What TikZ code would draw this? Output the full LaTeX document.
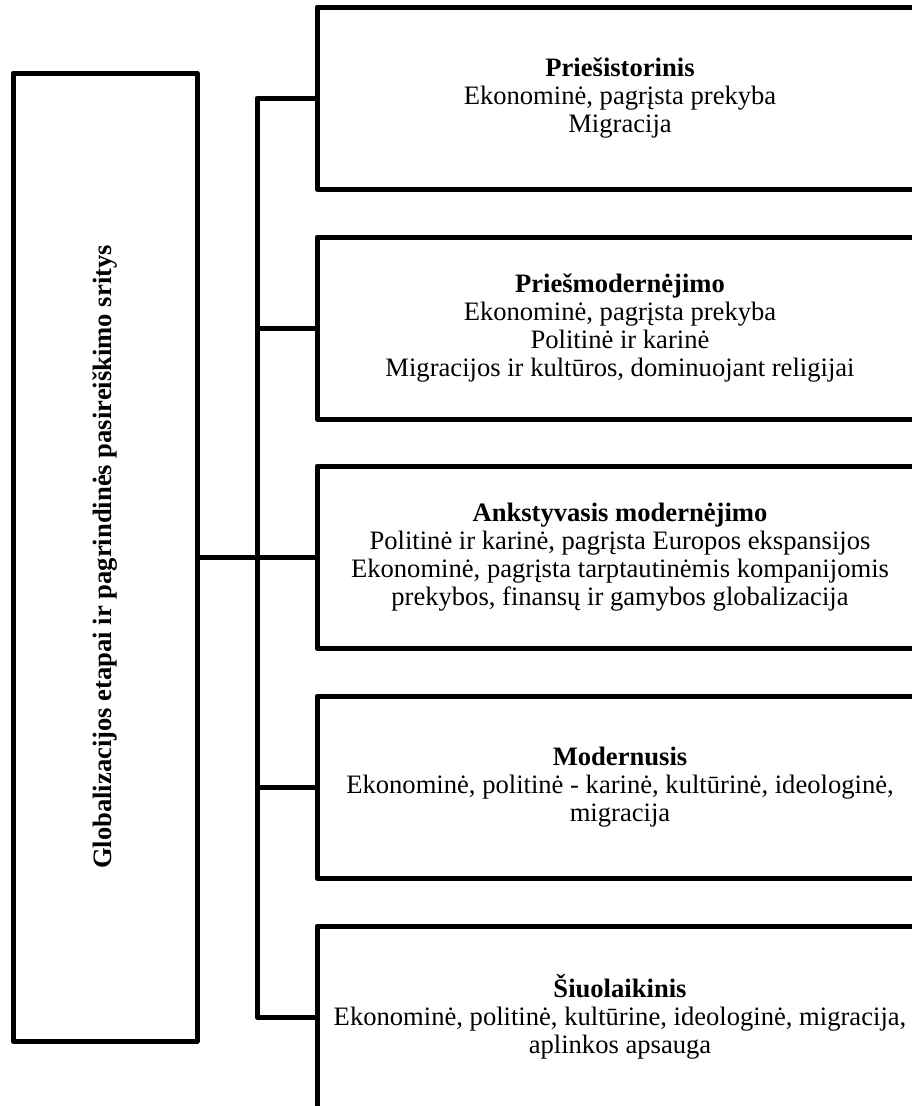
\documentclass[tikz,border=0pt]{standalone}
\usepackage{fontspec}
\setmainfont{Liberation Serif}
\usetikzlibrary{positioning}
\tikzset{
  wire/.style      = {line width=5pt, line join=round},
  titlebox/.style  = {draw, line width=5pt, line join=round, inner sep=0pt,
                      minimum width=184pt, minimum height=968pt},
  titletext/.style = {rotate=90, font=\fontsize{26.6}{28}\selectfont\bfseries},
  stagebox/.style  = {draw, line width=5pt, line join=round, inner sep=0pt,
                      minimum width=606pt, minimum height=182pt, align=center,
                      font=\fontsize{26.6}{28}\selectfont},
}

\begin{document}
\begin{tikzpicture}[x=1pt,y=-1pt]
  \useasboundingbox (0,0) rectangle (912,1106);
  \node[titlebox] (title) at (105,557) {};
  \node[titletext] (titlelabel) at (title.center)
       {Globalizacijos etapai ir pagrindinės pasireiškimo sritys};
  \coordinate (spine) at (257,0);

  \node[stagebox] (prehist) at (620,98)
       {\textbf{Priešistorinis}\\ Ekonominė, pagrįsta prekyba\\ Migracija};
  \node[stagebox] (premod) at (620,328)
       {\textbf{Priešmodernėjimo}\\ Ekonominė, pagrįsta prekyba\\ Politinė ir karinė\\
        Migracijos ir kultūros, dominuojant religijai};
  \node[stagebox] (earlymod) at (620,557)
       {\textbf{Ankstyvasis modernėjimo}\\ Politinė ir karinė, pagrįsta Europos ekspansijos\\
        Ekonominė, pagrįsta tarptautinėmis kompanijomis\\
        prekybos, finansų ir gamybos globalizacija};
  \node[stagebox] (modern) at (620,787)
       {\textbf{Modernusis}\\ Ekonominė, politinė - karinė, kultūrinė, ideologinė,\\ migracija};
  \node[stagebox] (contemp) at (620,1017)
       {\textbf{Šiuolaikinis}\\ Ekonominė, politinė, kultūrine, ideologinė, migracija,\\
        aplinkos apsauga};

  \draw[wire] (prehist.west) -- (prehist.west -| spine) -- (contemp.west -| spine) -- (contemp.west);
  \draw[wire] (premod.west) -- (premod.west -| spine);
  \draw[wire] (earlymod.west) -- (title.east);
  \draw[wire] (modern.west) -- (modern.west -| spine);
\end{tikzpicture}
\end{document}
